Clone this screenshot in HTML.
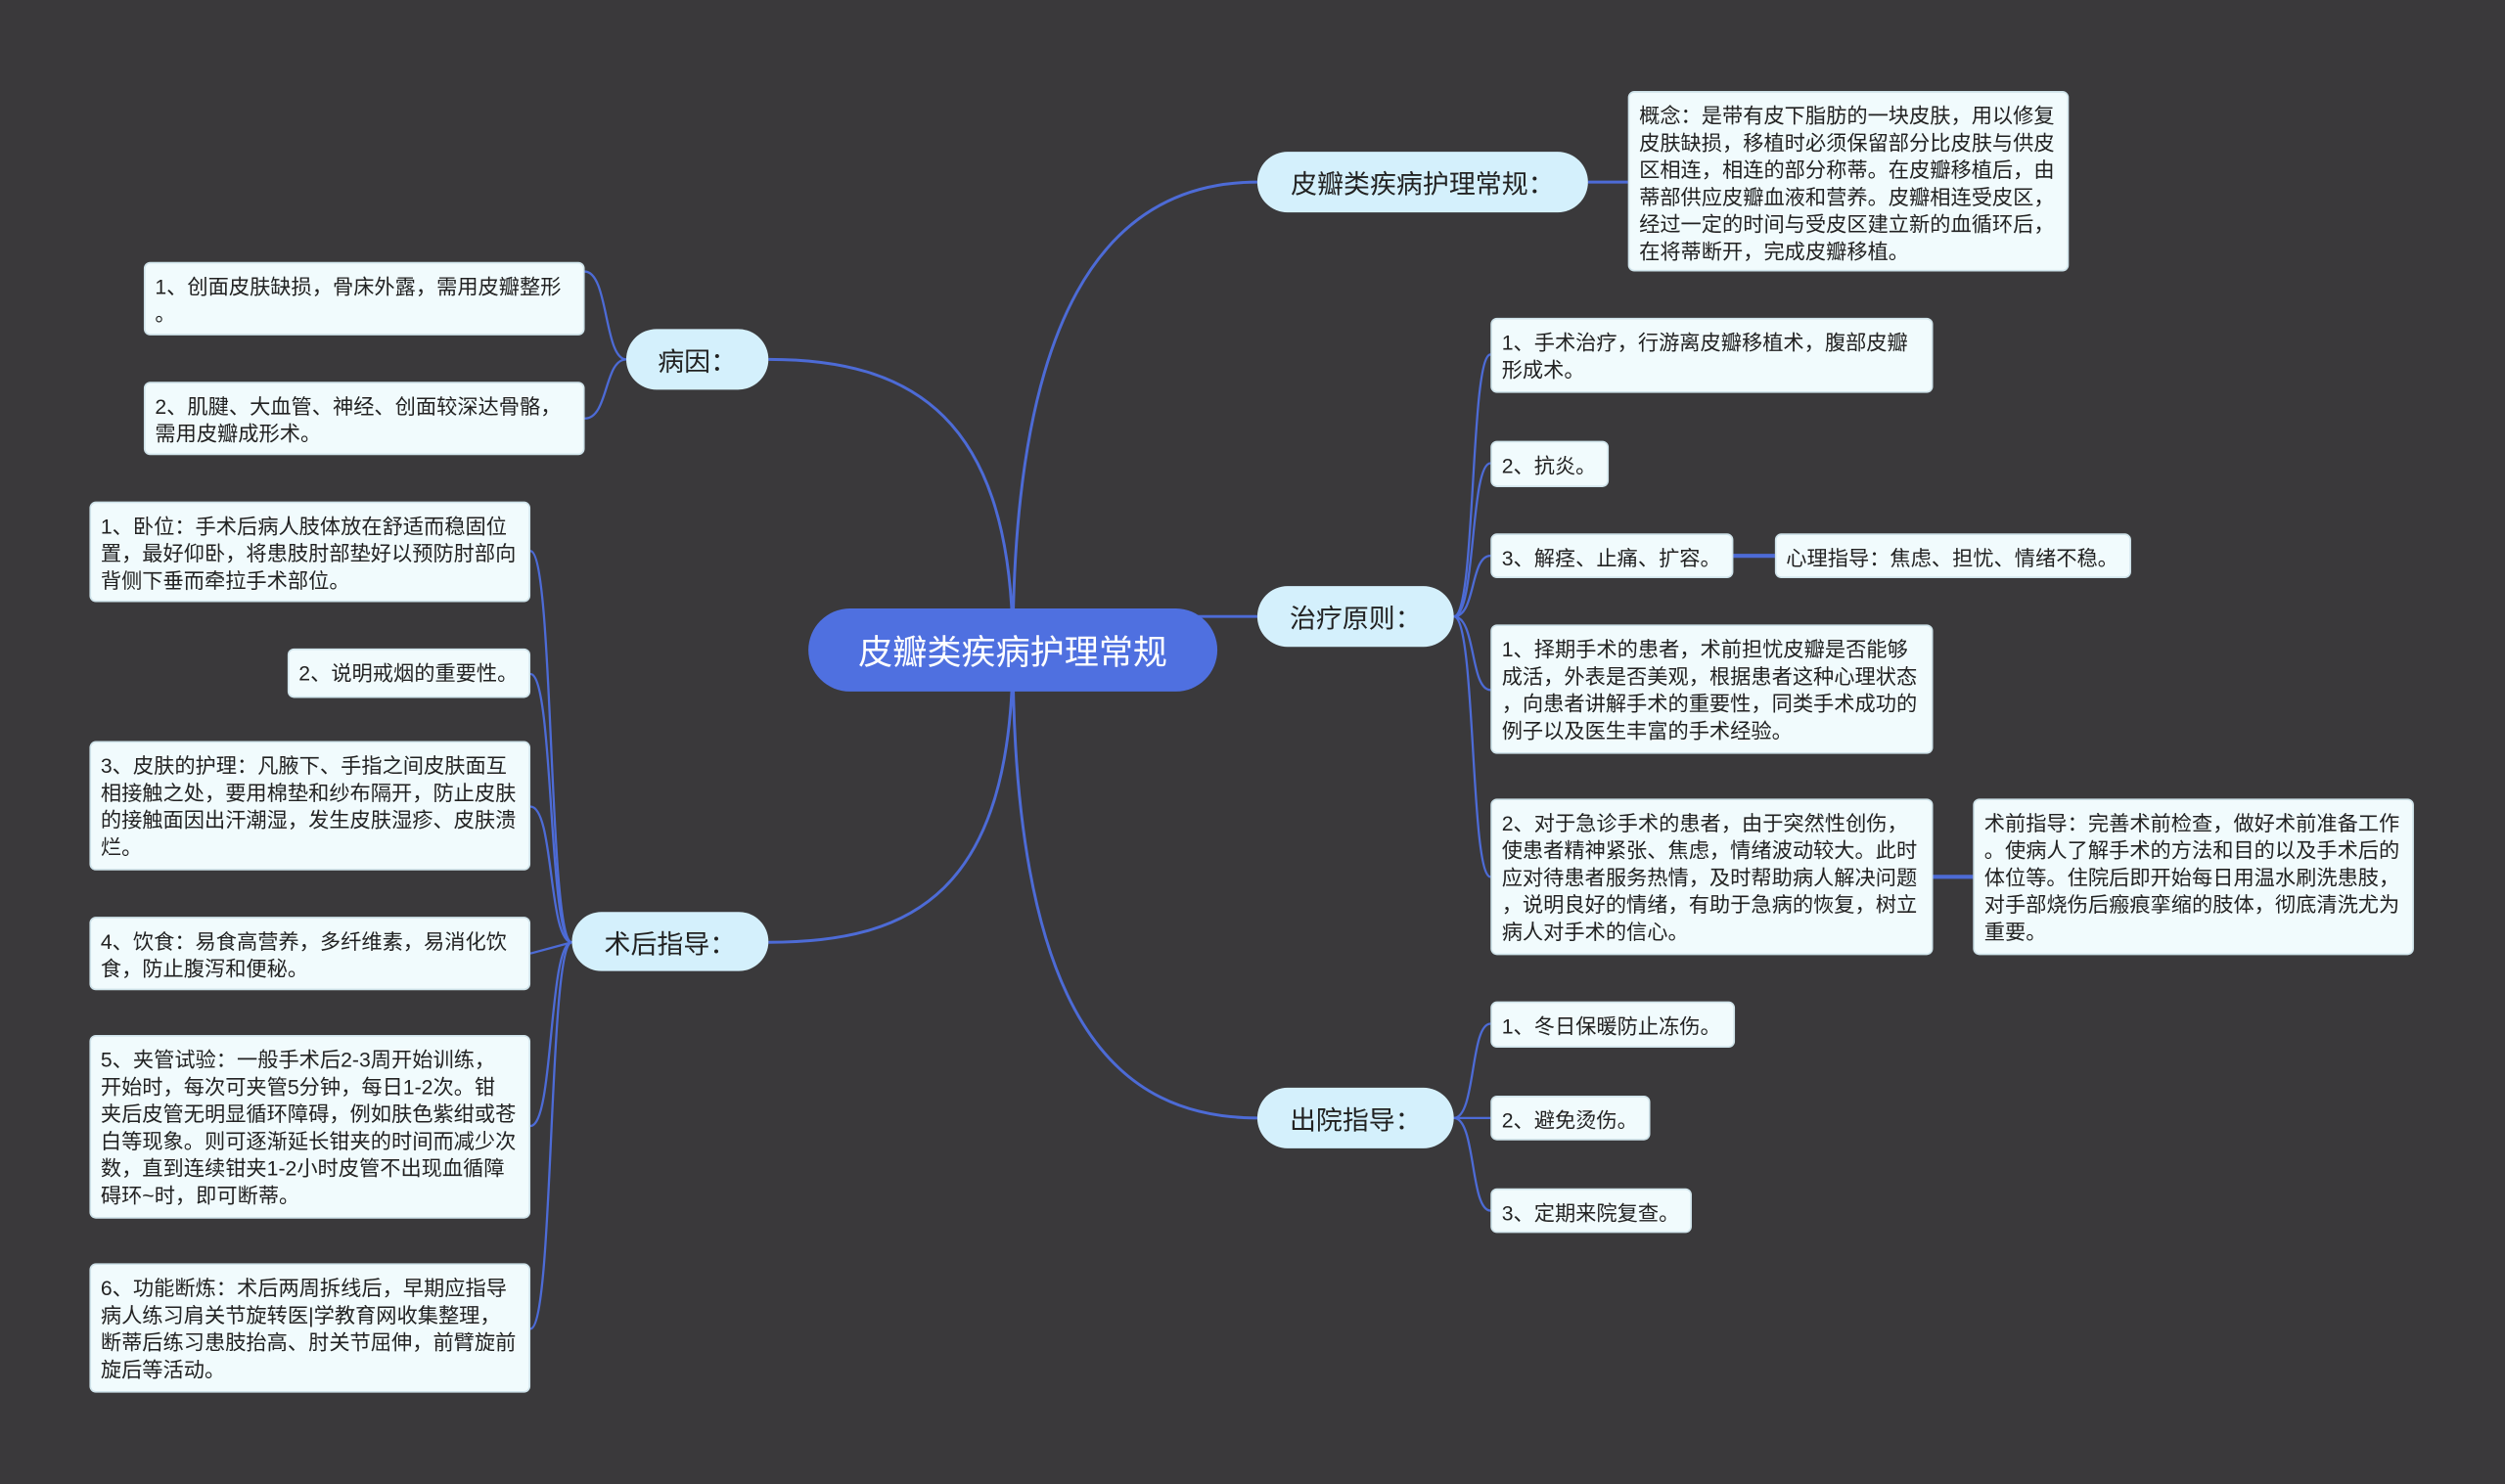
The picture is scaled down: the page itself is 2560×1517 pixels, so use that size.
<!DOCTYPE html>
<html><head><meta charset="utf-8"><style>
html,body{margin:0;padding:0;background:#3a393b;width:2560px;height:1516px;overflow:hidden}
#w{position:absolute;left:0;top:0;width:1568px;height:929px;transform:scale(1.63265);transform-origin:0 0;font-family:"Liberation Sans","Noto Sans CJK SC",sans-serif}
.l{position:absolute;background:#f1fbfd;border-radius:4px;color:#222;font-size:13px;line-height:17px;padding:6px 5px 5px 6px;box-sizing:border-box;border:1px solid #cfe3ea;white-space:nowrap}
.b{position:absolute;background:#d4f0fc;border-radius:19px;color:#222;font-size:16.5px;display:flex;align-items:center;justify-content:center;box-sizing:border-box}
svg{position:absolute;left:0;top:0}
</style></head><body><div id="w">
<svg width="1568" height="929" fill="none" stroke="#4d6bd6" stroke-width="1.8">
<path d="M634,407 C634,200 690,114 787,114"/>
<path d="M634,407 C634,260 570,225 481,225"/>
<path d="M634,407 C634,560 570,590 481,590"/>
<path d="M634,407 C634,640 700,700 787,700"/>
<path d="M740,386 L787,386"/>
<path d="M994,114 L1019,114"/>
<g stroke-width="1.4">
<path d="M910,386 C924,386 920,222 933,222"/>
<path d="M910,386 C924,386 920,290 933,290"/>
<path d="M910,386 C924,386 920,348 933,348"/>
<path d="M910,386 C924,386 920,432 933,432"/>
<path d="M910,386 C924,386 920,549 933,549"/>
<path d="M1085,348 L1111,348" stroke-width="2.5"/>
<path d="M1210,549 L1235,549" stroke-width="2.5"/>
<path d="M910,700 C924,700 920,641 933,641"/>
<path d="M910,700 L933,700"/>
<path d="M910,700 C924,700 920,758 933,758"/>
<path d="M392,225 C378,225 381,170 366,170"/>
<path d="M392,225 C378,225 381,262 366,262"/>
<path d="M358,590 C343,590 347,345 332,345"/>
<path d="M358,590 C343,590 347,422 332,422"/>
<path d="M358,590 C343,590 347,505 332,505"/>
<path d="M358,590 L332,597"/>
<path d="M358,590 C343,590 347,705 332,705"/>
<path d="M358,590 C343,590 347,832 332,832"/>
</g></svg>
<div class="b" style="left:506px;top:381px;width:256px;height:52px;border-radius:26px;background:#4f70e0;color:#fff;font-size:21.5px">皮瓣类疾病护理常规</div>
<div class="b" style="left:787px;top:95px;width:207px;height:38px">皮瓣类疾病护理常规：</div>
<div class="b" style="left:392px;top:206px;width:89px;height:38px">病因：</div>
<div class="b" style="left:787px;top:367px;width:123px;height:38px">治疗原则：</div>
<div class="b" style="left:787px;top:681px;width:123px;height:38px">出院指导：</div>
<div class="b" style="left:358px;top:571px;width:123px;height:37px">术后指导：</div>
<div class="l" style="left:1019px;top:57px;width:276px;height:113px">概念：是带有皮下脂肪的一块皮肤，用以修复<br>皮肤缺损，移植时必须保留部分比皮肤与供皮<br>区相连，相连的部分称蒂。在皮瓣移植后，由<br>蒂部供应皮瓣血液和营养。皮瓣相连受皮区，<br>经过一定的时间与受皮区建立新的血循环后，<br>在将蒂断开，完成皮瓣移植。</div>
<div class="l" style="left:90px;top:164px;width:276px;height:46px">1、创面皮肤缺损，骨床外露，需用皮瓣整形<br>。</div>
<div class="l" style="left:90px;top:239px;width:276px;height:46px">2、肌腱、大血管、神经、创面较深达骨骼，<br>需用皮瓣成形术。</div>
<div class="l" style="left:56px;top:314px;width:276px;height:63px">1、卧位：手术后病人肢体放在舒适而稳固位<br>置，最好仰卧，将患肢肘部垫好以预防肘部向<br>背侧下垂而牵拉手术部位。</div>
<div class="l" style="left:180px;top:406px;width:152px;height:31px">2、说明戒烟的重要性。</div>
<div class="l" style="left:56px;top:464px;width:276px;height:81px">3、皮肤的护理：凡腋下、手指之间皮肤面互<br>相接触之处，要用棉垫和纱布隔开，防止皮肤<br>的接触面因出汗潮湿，发生皮肤湿疹、皮肤溃<br>烂。</div>
<div class="l" style="left:56px;top:574px;width:276px;height:46px">4、饮食：易食高营养，多纤维素，易消化饮<br>食，防止腹泻和便秘。</div>
<div class="l" style="left:56px;top:648px;width:276px;height:115px">5、夹管试验：一般手术后2-3周开始训练，<br>开始时，每次可夹管5分钟，每日1-2次。钳<br>夹后皮管无明显循环障碍，例如肤色紫绀或苍<br>白等现象。则可逐渐延长钳夹的时间而减少次<br>数，直到连续钳夹1-2小时皮管不出现血循障<br>碍环~时，即可断蒂。</div>
<div class="l" style="left:56px;top:791px;width:276px;height:81px">6、功能断炼：术后两周拆线后，早期应指导<br>病人练习肩关节旋转医|学教育网收集整理，<br>断蒂后练习患肢抬高、肘关节屈伸，前臂旋前<br>旋后等活动。</div>
<div class="l" style="left:933px;top:199px;width:277px;height:47px">1、手术治疗，行游离皮瓣移植术，腹部皮瓣<br>形成术。</div>
<div class="l" style="left:933px;top:276px;width:74px;height:29px">2、抗炎。</div>
<div class="l" style="left:933px;top:334px;width:152px;height:28px">3、解痉、止痛、扩容。</div>
<div class="l" style="left:1111px;top:334px;width:223px;height:28px">心理指导：焦虑、担忧、情绪不稳。</div>
<div class="l" style="left:933px;top:391px;width:277px;height:81px">1、择期手术的患者，术前担忧皮瓣是否能够<br>成活，外表是否美观，根据患者这种心理状态<br>，向患者讲解手术的重要性，同类手术成功的<br>例子以及医生丰富的手术经验。</div>
<div class="l" style="left:933px;top:500px;width:277px;height:98px">2、对于急诊手术的患者，由于突然性创伤，<br>使患者精神紧张、焦虑，情绪波动较大。此时<br>应对待患者服务热情，及时帮助病人解决问题<br>，说明良好的情绪，有助于急病的恢复，树立<br>病人对手术的信心。</div>
<div class="l" style="left:1235px;top:500px;width:276px;height:98px">术前指导：完善术前检查，做好术前准备工作<br>。使病人了解手术的方法和目的以及手术后的<br>体位等。住院后即开始每日用温水刷洗患肢，<br>对手部烧伤后瘢痕挛缩的肢体，彻底清洗尤为<br>重要。</div>
<div class="l" style="left:933px;top:627px;width:153px;height:29px">1、冬日保暖防止冻伤。</div>
<div class="l" style="left:933px;top:686px;width:100px;height:28px">2、避免烫伤。</div>
<div class="l" style="left:933px;top:744px;width:126px;height:28px">3、定期来院复查。</div>
</div></body></html>
